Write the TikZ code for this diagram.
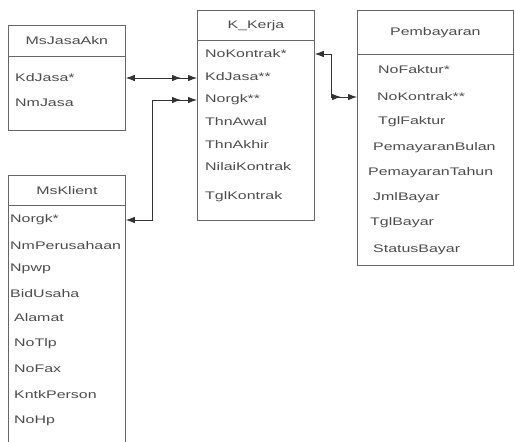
\documentclass[tikz,border=0pt]{standalone}
\usepackage{fontspec}
\newfontfamily\erdfont[FakeStretch=1.45]{Liberation Sans}
\usetikzlibrary{arrows.meta, positioning}
\tikzstyle{entity} = [rectangle, draw = black!60, line width = 0.8pt, anchor = north west,
inner sep = 0pt]
\tikzstyle{title} = [entity, font = \erdfont\fontsize{11}{13}\selectfont, text = black!70]
\tikzstyle{attr} = [anchor = west, inner sep = 0pt, font = \erdfont\fontsize{11}{13}\selectfont,
text = black!70]
\tikzstyle{relation} = [draw = black!80, line width = 0.8pt,
{Latex[length=9pt,width=6.5pt]}-{Latex[length=9pt,width=6.5pt,sep=7pt]Latex[length=9pt,width=6.5pt]}]

\begin{document}
\begin{tikzpicture}[x = 1pt, y = -1pt]

    \useasboundingbox (0,0) rectangle (515,442);
    \clip (0,0) rectangle (515,442);

    \node (jasa-head) [title, minimum width = 117pt, minimum height = 31pt] at (8,25) {MsJasaAkn};
    \node (jasa) [entity, minimum width = 117pt, minimum height = 74pt] at (8,56) {};
    \node (jasa-kdjasa) [attr] at (15,78) {KdJasa*};
    \node (jasa-nmjasa) [attr] at (15,103) {NmJasa};

    \node (klient-head) [title, minimum width = 117pt, minimum height = 30pt] at (8,175) {MsKlient};
    \node (klient) [entity, minimum width = 117pt, minimum height = 260pt] at (8,205) {};
    \node (klient-norgk) [attr] at (10,220) {Norgk*};
    \node (klient-nmperusahaan) [attr] at (10,246) {NmPerusahaan};
    \node (klient-npwp) [attr] at (10,269) {Npwp};
    \node (klient-bidusaha) [attr] at (10,294) {BidUsaha};
    \node (klient-alamat) [attr] at (14,318) {Alamat};
    \node (klient-notlp) [attr] at (14,344) {NoTlp};
    \node (klient-nofax) [attr] at (14,369) {NoFax};
    \node (klient-kntkperson) [attr] at (14,395) {KntkPerson};
    \node (klient-nohp) [attr] at (14,421) {NoHp};

    \node (kerja-head) [title, minimum width = 117pt, minimum height = 30pt] at (197,10) {K\_Kerja};
    \node (kerja) [entity, minimum width = 117pt, minimum height = 180pt] at (197,40) {};
    \node (kerja-nokontrak) [attr] at (205,54) {NoKontrak*};
    \node (kerja-kdjasa) [attr] at (205,77) {KdJasa**};
    \node (kerja-norgk) [attr] at (205,100) {Norgk**};
    \node (kerja-thnawal) [attr] at (205,122) {ThnAwal};
    \node (kerja-thnakhir) [attr] at (205,145) {ThnAkhir};
    \node (kerja-nilaikontrak) [attr] at (205,167) {NilaiKontrak};
    \node (kerja-tglkontrak) [attr] at (205,197) {TglKontrak};

    \node (bayar-head) [title, minimum width = 156pt, minimum height = 44pt] at (357,10) {Pembayaran};
    \node (bayar) [entity, minimum width = 156pt, minimum height = 211pt] at (357,54) {};
    \node (bayar-nofaktur) [attr] at (378,70) {NoFaktur*};
    \node (bayar-nokontrak) [attr] at (377,97) {NoKontrak**};
    \node (bayar-tglfaktur) [attr] at (378,122) {TglFaktur};
    \node (bayar-bulan) [attr] at (373,148) {PemayaranBulan};
    \node (bayar-tahun) [attr] at (368,173) {PemayaranTahun};
    \node (bayar-jmlbayar) [attr] at (373,198) {JmlBayar};
    \node (bayar-tglbayar) [attr] at (370,223) {TglBayar};
    \node (bayar-status) [attr] at (373,250) {StatusBayar};

    \draw[relation] (jasa.east |- jasa-kdjasa) -- (kerja.west |- jasa-kdjasa);
    \draw[relation] (klient.east |- klient-norgk) -- ++(27,0) |- (kerja.west |- kerja-norgk);
    \draw[relation] (kerja.east |- kerja-nokontrak) -- ++(17,0) |- (bayar.west |- bayar-nokontrak);

\end{tikzpicture}
\end{document}
